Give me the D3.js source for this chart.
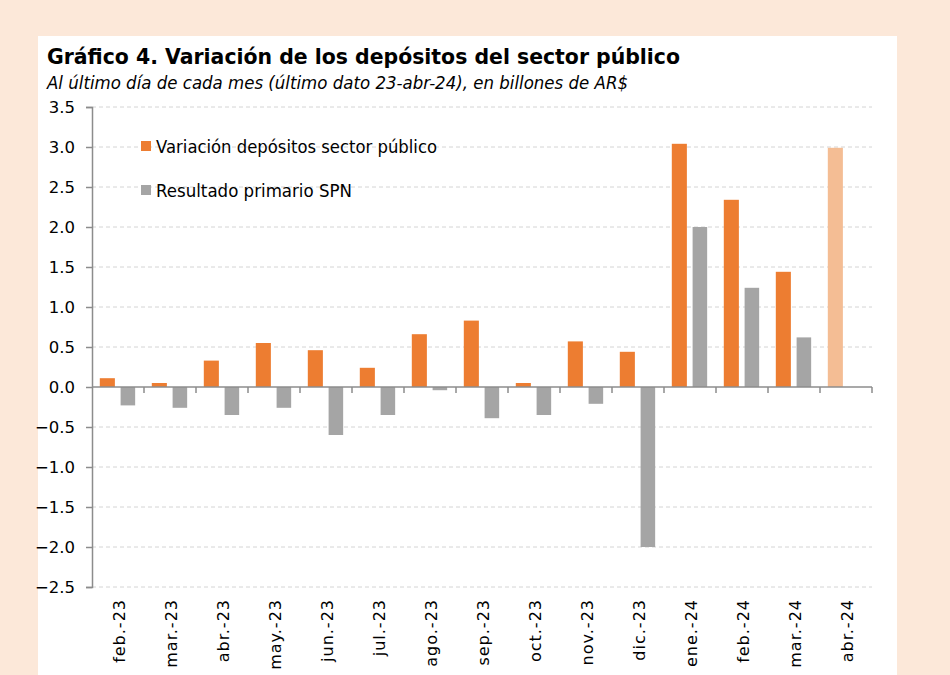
<!DOCTYPE html>
<html>
<head>
<meta charset="utf-8">
<script src="https://cdn.jsdelivr.net/npm/d3@7"></script>
<style>
  html, body { margin: 0; padding: 0; background: #FCE8D9; }
  svg { display: block; }
</style>
</head>
<body>
<svg id="chart" width="950" height="675"></svg>
<script>
const categories = ["feb.-23","mar.-23","abr.-23","may.-23","jun.-23","jul.-23","ago.-23","sep.-23","oct.-23","nov.-23","dic.-23","ene.-24","feb.-24","mar.-24","abr.-24"];
const depositos = [0.11,0.05,0.33,0.55,0.46,0.24,0.66,0.83,0.05,0.57,0.44,3.04,2.34,1.44,2.99];
const resultado = [-0.23,-0.26,-0.35,-0.26,-0.60,-0.35,-0.04,-0.39,-0.35,-0.21,-2.00,2.00,1.24,0.62,null];
const yTicks = [-2.5,-2.0,-1.5,-1.0,-0.5,0.0,0.5,1.0,1.5,2.0,2.5,3.0,3.5];
const seriesNames = ["Variación depósitos sector público","Resultado primario SPN"];
const titleText = "Gráfico 4. Variación de los depósitos del sector público";
const subtitleText = "Al último día de cada mes (último dato 23-abr-24), en billones de AR$";

const svg = d3.select("#chart");
const font = "'DejaVu Sans', Verdana, sans-serif";
const orange = "#ED7D31", orangeLight = "#F4BD94", gray = "#A5A5A5", axisCol = "#8C8C8C";

// white panel
svg.append("rect").attr("x",38).attr("y",36).attr("width",859).attr("height",650).attr("fill","#fff");

// titles
svg.append("text").attr("x",47).attr("y",64).text(titleText)
  .attr("font-family",font).attr("font-weight","bold").attr("font-size",22)
  .attr("textLength",633).attr("lengthAdjust","spacingAndGlyphs").attr("fill","#000");
svg.append("text").attr("x",47).attr("y",89).text(subtitleText)
  .attr("font-family",font).attr("font-style","italic").attr("font-size",17)
  .attr("textLength",581).attr("lengthAdjust","spacingAndGlyphs").attr("fill","#000");

const x = d3.scaleBand().domain(categories).range([92,872]).padding(0);
const y = d3.scaleLinear().domain([-2.5,3.5]).range([587,107]);
const bw = x.bandwidth();

// gridlines
svg.append("g").selectAll("line").data(yTicks.filter(d => d !== 0)).join("line")
  .attr("x1",92).attr("x2",872).attr("y1",d=>y(d)).attr("y2",d=>y(d))
  .attr("stroke","#D4D4D4").attr("stroke-width",1).attr("stroke-dasharray","4,3");

// y axis
const yAxis = svg.append("g").attr("transform","translate(92,0)")
  .call(d3.axisLeft(y).tickValues(yTicks).tickFormat(d3.format(".1f")).tickSize(6).tickPadding(11));
yAxis.select(".domain").attr("stroke",axisCol).attr("stroke-width",1.5);
yAxis.selectAll(".tick line").attr("stroke",axisCol).attr("stroke-width",1.5);
yAxis.selectAll(".tick text").attr("font-family",font).attr("font-size",16.5).attr("fill","#000");

// bars
const idx = d3.range(categories.length);
svg.append("g").selectAll("rect").data(idx).join("rect")
  .attr("x",i=>x(categories[i]) + bw*0.15)
  .attr("width",bw*0.29)
  .attr("y",i=>y(Math.max(0,depositos[i])))
  .attr("height",i=>Math.abs(y(depositos[i])-y(0)))
  .attr("fill",i=> i===categories.length-1 ? orangeLight : orange);
svg.append("g").selectAll("rect").data(idx.filter(i=>resultado[i]!==null)).join("rect")
  .attr("x",i=>x(categories[i]) + bw*0.55)
  .attr("width",bw*0.28)
  .attr("y",i=>y(Math.max(0,resultado[i])))
  .attr("height",i=>Math.abs(y(resultado[i])-y(0)))
  .attr("fill",gray);

// x axis at zero
svg.append("line").attr("x1",92).attr("x2",872).attr("y1",y(0)).attr("y2",y(0))
  .attr("stroke",axisCol).attr("stroke-width",1.5);
svg.append("g").selectAll("line").data(d3.range(1,categories.length+1)).join("line")
  .attr("x1",i=>92+i*bw).attr("x2",i=>92+i*bw)
  .attr("y1",y(0)).attr("y2",y(0)+6)
  .attr("stroke",axisCol).attr("stroke-width",1.5);

// x labels (rotated)
svg.append("g").selectAll("text").data(categories).join("text")
  .attr("transform",d=>`translate(${x(d)+bw/2+1},599) rotate(-90)`)
  .attr("text-anchor","end").attr("dominant-baseline","central")
  .attr("font-family",font).attr("font-size",16).attr("letter-spacing",1).attr("fill","#000")
  .text(d=>d);

// legend
const legend = svg.append("g");
[[orange,146],[gray,190]].forEach(([c,cy],k)=>{
  legend.append("rect").attr("x",141).attr("y",cy-5).attr("width",10).attr("height",10).attr("fill",c);
  legend.append("text").attr("x",156).attr("y",cy+1).attr("dominant-baseline","central")
    .attr("font-family",font).attr("font-size",17).attr("fill","#000")
    .attr("textLength", k===0 ? 281 : 196).attr("lengthAdjust","spacingAndGlyphs")
    .text(seriesNames[k]);
});
</script>
</body>
</html>
